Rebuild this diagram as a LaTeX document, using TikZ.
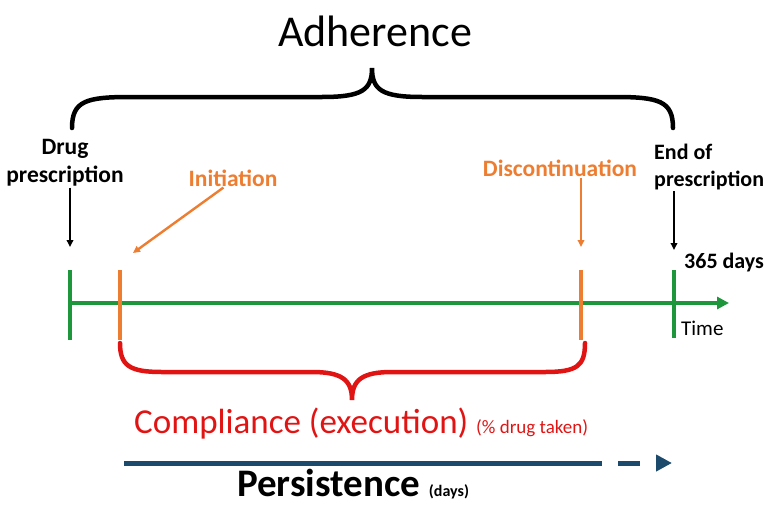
\documentclass[tikz,border=0pt]{standalone}
\usepackage{fontspec}
\setmainfont{Carlito}
\usetikzlibrary{arrows.meta}
\definecolor{tgreen}{RGB}{30,150,60}
\definecolor{torange}{RGB}{237,125,49}
\definecolor{tred}{RGB}{225,20,20}
\definecolor{tnavy}{RGB}{28,74,108}
\tikzset{
  lbl/.style={font=\fontsize{23.5}{28}\selectfont\bfseries, inner sep=1pt},
  rlbl/.style={lbl, font=\fontsize{22}{27}\selectfont\bfseries},
  tick/.style={line width=4.5pt},
  pointer/.style={line width=2.4pt, -{Triangle[length=7pt,width=6.5pt]}},
  bracket/.style={line width=4.5pt, line cap=round}
}
\begin{document}
\begin{tikzpicture}[x=1pt,y=-1pt]
				\useasboundingbox (0,0) rectangle (768,506);
				\path
				(70,303) coordinate (t0)
				(120,303) coordinate (t1)
				(581,303) coordinate (t2)
				(674,303) coordinate (t3)
				(729,303) coordinate (tEnd)
				(70,247) coordinate (aDrug)
				(133,253) coordinate (aInit)
				(581,247) coordinate (aDisc)
				(674,250) coordinate (aEnd);
				% labels
				\node[font=\fontsize{44}{50}\selectfont, anchor=base] (adh) at (375,46) {Adherence};
				\node[lbl, align=center] (drug) at (65,163) {Drug\\prescription};
				\node[rlbl, align=left, anchor=west] (endp) at (653,167) {End of\\prescription};
				\node[lbl, text=torange] (init) at (233,178) {Initiation};
				\node[lbl, text=torange] (disc) at (560,168) {Discontinuation};
				\node[rlbl, anchor=west] (days) at (683,263) {365 days};
				\node[font=\fontsize{21}{24}\selectfont, anchor=west, inner sep=1pt] (time) at (680,328) {Time};
				\node[text=tred, anchor=base west, inner sep=0pt] (comp) at (134,433)
				  {\fontsize{35}{40}\selectfont Compliance (execution) \fontsize{19}{22}\selectfont(\% drug taken)};
				\node[anchor=base west, inner sep=0pt] (pers) at (237,496)
				  {\fontsize{39}{44}\selectfont\bfseries Persistence \fontsize{16}{18}\selectfont(days)};
				% time line
				\draw[tgreen, line width=4.5pt, -{Triangle[length=12pt,width=12pt]}] (t0) -- (tEnd);
				\draw[tick, tgreen] ([yshift=33pt]t0) -- ([yshift=-37pt]t0);
				\draw[tick, tgreen] ([yshift=33pt]t3) -- ([yshift=-35pt]t3);
				\draw[tick, torange] ([yshift=33pt]t1) -- ([yshift=-37pt]t1);
				\draw[tick, torange] ([yshift=33pt]t2) -- ([yshift=-37pt]t2);
				% pointers
				\draw[pointer] (drug.south -| aDrug) -- (aDrug);
				\draw[pointer] (endp.south -| aEnd) -- (aEnd);
				\draw[pointer, torange] (init.225) -- (aInit);
				\draw[pointer, torange] (disc.south -| aDisc) -- (aDisc);
				% braces
				\draw[bracket] (72,128) .. controls (72,101) and (86,97) .. (130,97) -- (322,97)
				  .. controls (362,97) and (372,90) .. (372,68)
				  .. controls (372,90) and (382,97) .. (422,97) -- (615,97)
				  .. controls (659,97) and (673,101) .. (673,128);
				\draw[bracket, tred] (120,343) .. controls (120,366) and (130,372) .. (162,372) -- (312,372)
				  .. controls (342,372) and (352,380) .. (352,400)
				  .. controls (352,380) and (362,372) .. (392,372) -- (545,372)
				  .. controls (577,372) and (585,366) .. (585,343);
				% persistence
				\draw[tnavy, line width=5pt, dash pattern=on 478pt off 16pt on 22pt off 16pt,
				  -{Triangle[length=16pt,width=16pt]}] (124,463) -- (672,463);
			\end{tikzpicture}
\end{document}
